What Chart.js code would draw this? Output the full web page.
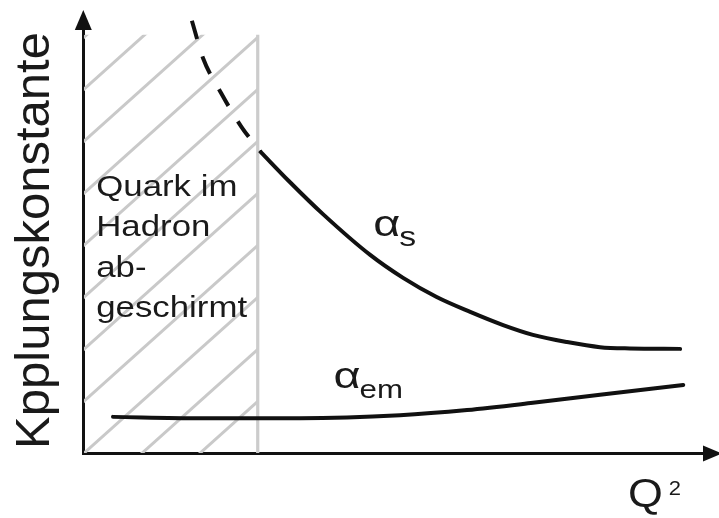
<!DOCTYPE html>
<html>
<head>
<meta charset="utf-8">
<script src="https://cdn.jsdelivr.net/npm/chart.js@4/dist/chart.umd.min.js"></script>
<style>
    body { margin: 0; background: #fff; }
    #wrap { width: 719px; height: 518px; }
</style>
</head>
<body>
<div id="wrap"><canvas id="couplingChart" width="719" height="518"></canvas></div>
<script>
// Q^2 in arbitrary units (0..10), coupling in arbitrary units (0..10)
const alphaSDashedQ2 = [1.74, 1.92, 2.21, 2.54, 2.85];
const alphaSDashedVal = [10.17, 9.29, 8.47, 7.67, 7.08];

const alphaSQ2 = [2.85, 3.30, 3.85, 4.61, 5.14, 5.68, 6.22, 6.75, 7.23, 7.78, 8.31, 8.79, 9.60];
const alphaSVal = [7.08, 6.40, 5.62, 4.66, 4.12, 3.67, 3.32, 3.01, 2.78, 2.61, 2.49, 2.46, 2.45];

const alphaEmQ2 = [0.47, 1.87, 3.48, 5.09, 6.17, 7.23, 8.31, 9.65];
const alphaEmVal = [0.85, 0.82, 0.82, 0.89, 1.01, 1.18, 1.37, 1.60];

// shielded region (hatched): from Q2 = 0 up to this limit
const shieldQ2 = [0, 2.80];
const shieldTop = [9.84, 9.84];

const quarkText = ['Quark im', 'Hadron', 'ab-', 'geschirmt'];
const yTitle = 'Kpplungskonstante';

const FONT = "'Liberation Sans', Arial, sans-serif";
const INK = '#1a1a1a';

function toPoints(xs, ys) {
    return xs.map((x, i) => ({ x: x, y: ys[i] }));
}

// diagonal hatch tile, lines rising to the right
function makeHatch(ctx) {
    const w = 58, h = 52, c = 8.5, k = h / w;
    const tile = document.createElement('canvas');
    tile.width = w;
    tile.height = h;
    const t = tile.getContext('2d');
    t.strokeStyle = '#c9c9c9';
    t.lineWidth = 3;
    for (let n = -1; n <= 2; n++) {
        t.beginPath();
        t.moveTo(-5, c + n * h + k * 5);
        t.lineTo(w + 5, c + n * h - k * (w + 5));
        t.stroke();
    }
    return ctx.createPattern(tile, 'repeat');
}

function stretchText(ctx, str, x, y, size, sx) {
    ctx.save();
    ctx.font = size + 'px ' + FONT;
    ctx.translate(x, y);
    ctx.scale(sx, 1);
    ctx.fillText(str, 0, 0);
    const w = ctx.measureText(str).width * sx;
    ctx.restore();
    return w;
}

const decorPlugin = {
    id: 'decor',
    afterDatasetsDraw(chart) {
        const ctx = chart.ctx;
        const xs = chart.scales.x, ys = chart.scales.y;
        ctx.save();
        ctx.fillStyle = INK;
        ctx.textAlign = 'left';
        ctx.textBaseline = 'alphabetic';

        // text inside the hatched region
        const qx = xs.getPixelForValue(0.2);
        const qy = ys.getPixelForValue(6.05);
        quarkText.forEach((line, i) => {
            stretchText(ctx, line, qx, qy + i * 40.4, 30, 1.16);
        });

        // alpha_s
        let ax = xs.getPixelForValue(4.66);
        let ay = ys.getPixelForValue(5.11);
        let w = stretchText(ctx, '\u03b1', ax, ay, 36, 1.3);
        stretchText(ctx, 's', ax + w - 1, ay + 10, 27, 1.25);

        // alpha_em
        ax = xs.getPixelForValue(4.02);
        ay = ys.getPixelForValue(1.53);
        w = stretchText(ctx, '\u03b1', ax, ay, 36, 1.3);
        stretchText(ctx, 'em', ax + w - 1, ay + 10, 26, 1.2);

        // x axis title Q^2
        const tx = xs.getPixelForValue(8.76);
        const ty = ys.getPixelForValue(-1.27);
        w = stretchText(ctx, 'Q', tx, ty, 40, 1.12);
        stretchText(ctx, '2', tx + w + 6, ty - 12, 20, 1.1);
        ctx.restore();
    },
    afterDraw(chart) {
        const ctx = chart.ctx;
        const area = chart.chartArea;
        ctx.save();
        ctx.fillStyle = '#111';
        // arrow on the y axis
        const yx = area.left - 0.5;
        ctx.beginPath();
        ctx.moveTo(yx, area.top - 18);
        ctx.lineTo(yx - 8.5, area.top + 2);
        ctx.lineTo(yx + 8.5, area.top + 2);
        ctx.closePath();
        ctx.fill();
        // arrow on the x axis
        const xy = area.bottom + 0.5;
        ctx.beginPath();
        ctx.moveTo(area.right + 17, xy);
        ctx.lineTo(area.right - 2, xy - 8);
        ctx.lineTo(area.right - 2, xy + 8);
        ctx.closePath();
        ctx.fill();
        ctx.restore();
    }
};

document.addEventListener('DOMContentLoaded', function() {
    const ctx = document.getElementById('couplingChart').getContext('2d');
    const hatch = makeHatch(ctx);

    new Chart(ctx, {
        type: 'line',
        data: {
            datasets: [
                {
                    label: 'alpha_s (dashed)',
                    data: toPoints(alphaSDashedQ2, alphaSDashedVal),
                    borderColor: '#111',
                    borderWidth: 4,
                    borderDash: [19, 18],
                    pointRadius: 0,
                    cubicInterpolationMode: 'monotone',
                    clip: false,
                    order: 1
                },
                {
                    label: 'alpha_s',
                    data: toPoints(alphaSQ2, alphaSVal),
                    borderColor: '#111',
                    borderWidth: 4,
                    borderCapStyle: 'round',
                    pointRadius: 0,
                    cubicInterpolationMode: 'monotone',
                    clip: false,
                    order: 1
                },
                {
                    label: 'alpha_em',
                    data: toPoints(alphaEmQ2, alphaEmVal),
                    borderColor: '#111',
                    borderWidth: 4,
                    borderCapStyle: 'round',
                    pointRadius: 0,
                    cubicInterpolationMode: 'monotone',
                    clip: false,
                    order: 1
                },
                {
                    label: 'boundary',
                    data: [{ x: shieldQ2[1], y: 0 }, { x: shieldQ2[1], y: shieldTop[1] }],
                    borderColor: '#cccccc',
                    borderWidth: 3.2,
                    pointRadius: 0,
                    order: 2
                },
                {
                    label: 'shielded',
                    data: toPoints(shieldQ2, shieldTop),
                    borderWidth: 0,
                    borderColor: 'rgba(0,0,0,0)',
                    backgroundColor: hatch,
                    fill: 'origin',
                    pointRadius: 0,
                    order: 3
                }
            ]
        },
        options: {
            responsive: false,
            animation: false,
            layout: {
                padding: { top: 28, right: 14, bottom: 65, left: 0 }
            },
            plugins: {
                legend: { display: false },
                tooltip: { enabled: false }
            },
            scales: {
                x: {
                    type: 'linear',
                    min: 0,
                    max: 10,
                    z: 1,
                    grid: { display: false, drawTicks: false },
                    border: { display: true, color: '#111', width: 3 },
                    ticks: { display: false }
                },
                y: {
                    type: 'linear',
                    min: 0,
                    max: 10,
                    z: 1,
                    grid: { display: false, drawTicks: false },
                    border: { display: true, color: '#111', width: 3 },
                    ticks: { display: false },
                    title: {
                        display: true,
                        text: yTitle,
                        color: INK,
                        font: { family: FONT, size: 49 },
                        padding: { top: 6, bottom: 19 }
                    }
                }
            }
        },
        plugins: [decorPlugin]
    });
});
</script>
</body>
</html>
